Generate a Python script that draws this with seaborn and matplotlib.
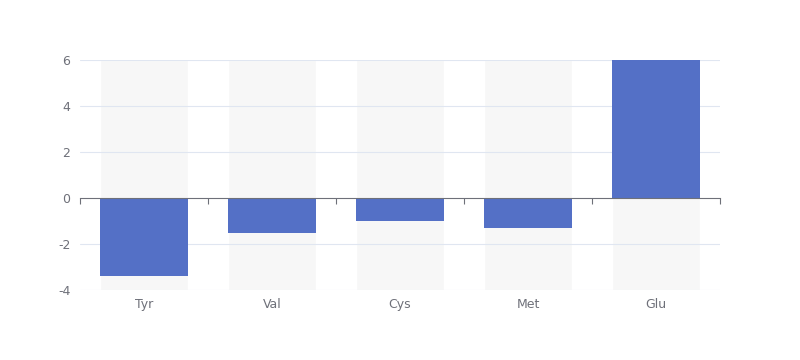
import matplotlib
matplotlib.use("Agg")
import matplotlib.pyplot as plt
import seaborn as sns
import pandas as pd
import numpy as np

# dados do grafico
categories = ["Tyr", "Val", "Cys", "Met", "Glu"]
values = [-3.4, -1.5, -1.0, -1.3, 6.0]
y_min, y_max = -4, 6
y_ticks = [-4, -2, 0, 2, 4, 6]

bar_color = "#5470c6"
bg_color = "#f7f7f7"
grid_color = "#e0e6f1"
axis_color = "#6e7079"

sns.set_theme(style="white")
plt.rcParams["font.family"] = ["DejaVu Sans"]
plt.rcParams["axes.unicode_minus"] = False

df = pd.DataFrame({"amino": categories, "valor": values})

fig = plt.figure(figsize=(8, 3.6), dpi=100)
ax = fig.add_axes([0.1, 70 / 360, 0.8, 230 / 360])

# fundo das barras (showBackground)
x = np.arange(len(categories))
ax.bar(x, y_max - y_min, bottom=y_min, width=0.69, color=bg_color, zorder=0)

for t in y_ticks:
    if t != 0:
        ax.axhline(t, color=grid_color, lw=0.8, zorder=0.5)

sns.barplot(data=df, x="amino", y="valor", color=bar_color, width=0.69,
            saturation=1, ax=ax, zorder=2, linewidth=0)

ax.set_xlim(-0.5, len(categories) - 0.5)
ax.set_ylim(y_min, y_max)
ax.set_yticks(y_ticks)
ax.set_xlabel("")
ax.set_ylabel("")

for s in ["top", "right", "left"]:
    ax.spines[s].set_visible(False)
ax.spines["bottom"].set_position(("data", 0))
ax.spines["bottom"].set_color(axis_color)
ax.spines["bottom"].set_linewidth(0.8)
ax.spines["bottom"].set_zorder(3)

ax.set_xticks(np.arange(len(categories) + 1) - 0.5)
ax.set_xticklabels([])
ax.tick_params(axis="x", bottom=True, direction="out", length=4, width=0.8,
               color=axis_color)
ax.tick_params(axis="y", length=0, pad=7, labelsize=9, labelcolor=axis_color)

sec = ax.secondary_xaxis(0)
sec.set_xticks(x)
sec.set_xticklabels(categories)
sec.tick_params(length=0, pad=6, labelsize=9, labelcolor=axis_color)
sec.spines["bottom"].set_visible(False)

fig.savefig("out.png", dpi=100)
